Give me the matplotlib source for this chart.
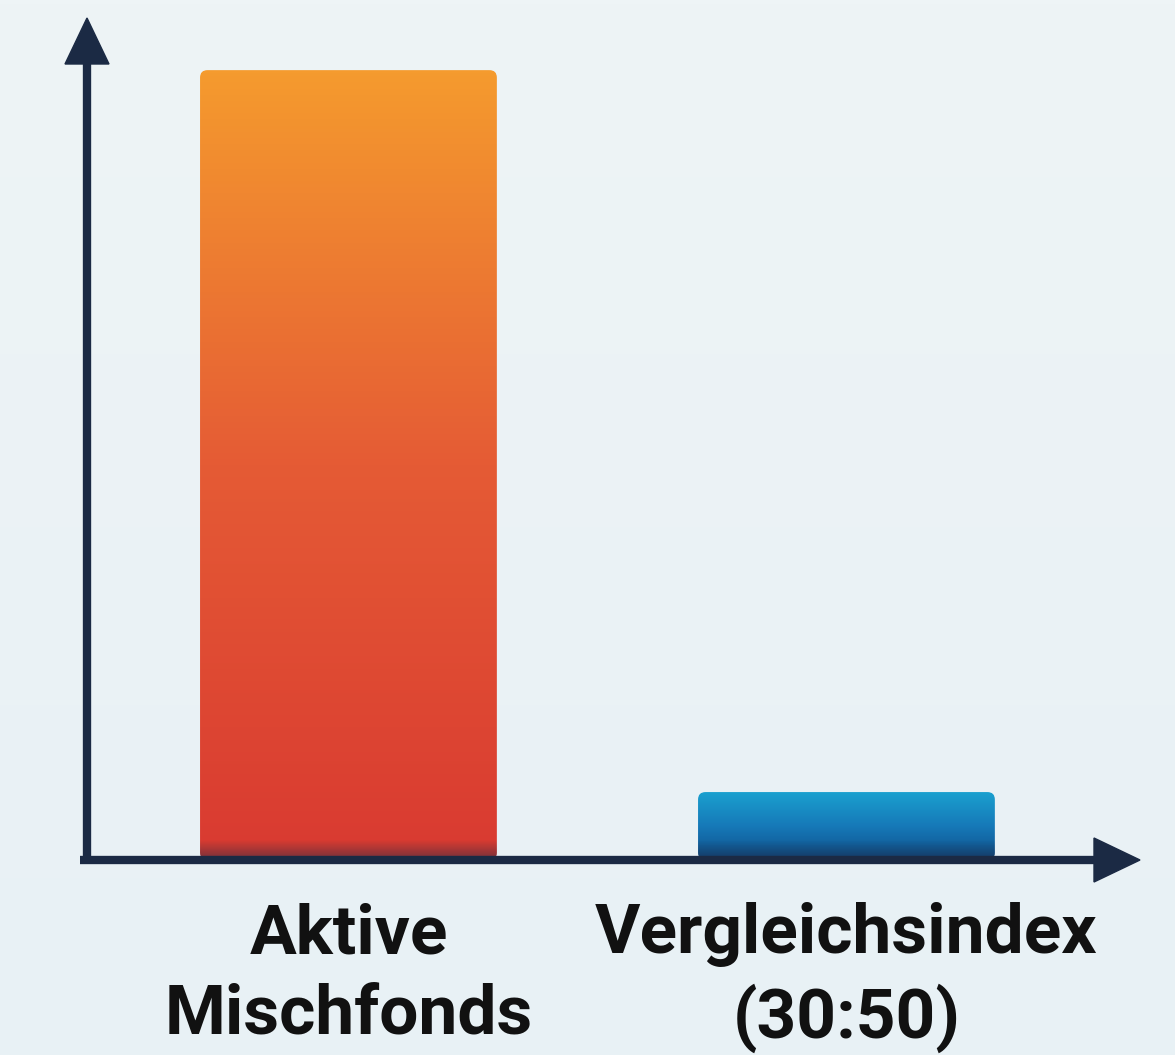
import numpy as np
import matplotlib.pyplot as plt
from matplotlib.patches import FancyBboxPatch, Polygon
from matplotlib.colors import LinearSegmentedColormap

# ---
# data
# ---
categories = ["Aktive\nMischfonds", "Vergleichsindex\n(30:50)"]
values = [100, 8.6]

# ---
# style
# ---
bg_color = "#EBF2F5"
axis_color = "#1B2A44"
bar_cmaps = [
    LinearSegmentedColormap.from_list("warm", ["#D93A31", "#E55B35", "#F59B2E"]),
    LinearSegmentedColormap.from_list("cool", ["#0F4F8A", "#1679B8", "#1AA0CF"]),
]
bar_width = 0.596
y_top = 106.6

fig = plt.figure(figsize=(11.75, 10.55), dpi=100)
fig.patch.set_facecolor(bg_color)

# soft background gradient
bg = fig.add_axes([0, 0, 1, 1], zorder=-10)
grad = np.linspace(0, 1, 256).reshape(-1, 1)
bg.imshow(grad, aspect="auto", extent=(0, 1, 0, 1),
          cmap=LinearSegmentedColormap.from_list("bg", ["#EEF4F6", "#E8F1F5"]))
bg.axis("off")

W, H = 1175, 1055
ax_w, ax_h = 1140 - 87, 860 - 18
ax = fig.add_axes([87 / W, (H - 860) / H, ax_w / W, ax_h / H])
ax.patch.set_alpha(0)
for s in ax.spines.values():
    s.set_visible(False)
ax.set_xticks([])
ax.set_yticks([])

# gradient bars with slightly rounded corners
shade = LinearSegmentedColormap.from_list(
    "shade", [(0.106, 0.165, 0.267, 0.55), (0.106, 0.165, 0.267, 0.0)])
for i, (val, cmap) in enumerate(zip(values, bar_cmaps)):
    x0 = i - bar_width / 2
    patch = FancyBboxPatch((x0, 0), bar_width, val,
                           boxstyle="round,pad=0,rounding_size=0.015",
                           mutation_aspect=y_top / 2.115 * 1053 / 842,
                           facecolor="none", edgecolor="none")
    ax.add_patch(patch)
    im = ax.imshow(grad, aspect="auto", extent=(x0, x0 + bar_width, 0, val),
                   cmap=cmap, origin="lower", zorder=2)
    im.set_clip_path(patch)
    # dark shadow fading upward near the base
    sh = ax.imshow(grad, aspect="auto",
                   extent=(x0, x0 + bar_width, 0, min(2.5, val * 0.35)),
                   cmap=shade, origin="lower", zorder=3)
    sh.set_clip_path(patch)

ax.set_xlim(-0.525, -0.525 + 1053 / 498)
ax.set_ylim(0, y_top)

# axes lines with solid triangular arrow heads
head_len, head_half = 46, 22
ax.plot([-7 / ax_w, 1 - head_len / ax_w + 0.002], [0, 0], transform=ax.transAxes,
        color=axis_color, lw=6, solid_capstyle="butt", clip_on=False, zorder=5)
ax.plot([0, 0], [-4 / ax_h, 1 - head_len / ax_h + 0.002], transform=ax.transAxes,
        color=axis_color, lw=6, solid_capstyle="butt", clip_on=False, zorder=5)
ax.add_patch(Polygon([(1, 0), (1 - head_len / ax_w, head_half / ax_h),
                      (1 - head_len / ax_w, -head_half / ax_h)],
                     closed=True, transform=ax.transAxes, color=axis_color,
                     clip_on=False, zorder=6))
ax.add_patch(Polygon([(0, 1), (head_half / ax_w, 1 - head_len / ax_h),
                      (-head_half / ax_w, 1 - head_len / ax_h)],
                     closed=True, transform=ax.transAxes, color=axis_color,
                     clip_on=False, zorder=6))

# category labels
for i, label in enumerate(categories):
    ax.text(i, -0.05, label, transform=ax.get_xaxis_transform(),
            ha="center", va="top", fontsize=50, fontweight="bold",
            family="Roboto", color="#111111", linespacing=1.3)

fig.savefig("out.png", dpi=100, facecolor=fig.get_facecolor())
